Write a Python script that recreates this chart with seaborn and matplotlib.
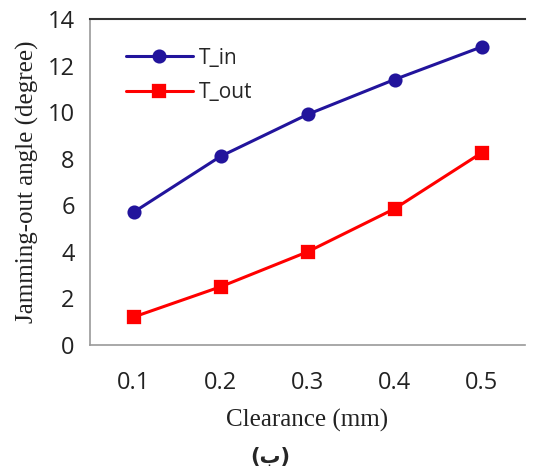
import matplotlib
matplotlib.use("Agg")
import matplotlib.pyplot as plt
import seaborn as sns
import pandas as pd

clearance = ["0.1", "0.2", "0.3", "0.4", "0.5"]
t_in = [5.7, 8.1, 9.9, 11.4, 12.8]
t_out = [1.2, 2.5, 4.0, 5.85, 8.25]
series_names = ["T_in", "T_out"]
y_ticks = [0, 2, 4, 6, 8, 10, 12, 14]

sns.set_theme(style="white")
plt.rcParams['font.family'] = ['Open Sans', 'DejaVu Sans']

df = pd.DataFrame({
    "Clearance": clearance * 2,
    "Angle": t_in + t_out,
    "Series": [series_names[0]] * len(clearance) + [series_names[1]] * len(clearance),
})

fig = plt.figure(figsize=(5.4, 4.7), dpi=100)
ax = fig.add_axes([90/540, 1-345/470, 435/540, 326/470])

colors = {"T_in": "#22149C", "T_out": "#FF0000"}
sns.pointplot(data=df, x="Clearance", y="Angle", hue="Series", order=clearance,
              palette=colors, markers=["o", "s"], linestyles=["-", "-"],
              markersize=8.5, linewidth=2.2, ax=ax, errorbar=None)

ax.set_xlim(-0.5, 4.5)
ax.set_ylim(0, 14)
ax.set_yticks(y_ticks)
ax.set_yticklabels([str(v) for v in y_ticks], fontsize=17, color="#222222")
ax.set_xticks([i - 0.5 for i in range(len(clearance) + 1)], minor=False)
ax.set_xticklabels([])
ax.set_xticks(range(len(clearance)), minor=True)
ax.set_xticklabels(clearance, minor=True, fontsize=17, color="#222222")
ax.tick_params(axis="x", which="major", direction="out", length=7, width=1.2, color="#999999")
ax.tick_params(axis="x", which="minor", length=0, pad=19)
ax.tick_params(axis="y", direction="out", length=7, width=1.2, color="#999999", pad=4)

for s in ["left", "bottom"]:
    ax.spines[s].set_color("#999999")
    ax.spines[s].set_linewidth(1.2)
ax.spines["right"].set_visible(False)
ax.spines["top"].set_color("#333333")
ax.spines["top"].set_linewidth(1.5)
ax.grid(False)

ax.set_xlabel("Clearance (mm)", family=["Liberation Serif"], fontsize=18, color="#222222", labelpad=10)
ax.set_ylabel("Jamming-out angle (degree)", family=["Liberation Serif"], fontsize=18, color="#222222", labelpad=6)

leg = ax.legend(loc="upper left", bbox_to_anchor=(0.04, 0.97), frameon=False,
                fontsize=15, handlelength=3.2, labelspacing=0.65, handletextpad=0.3)

fig.text(0.5, 1 - 457/470, "(ب)", ha="center", va="center", fontsize=15, fontweight="bold",
         family=["DejaVu Sans"])

fig.savefig("out.png", dpi=100)
